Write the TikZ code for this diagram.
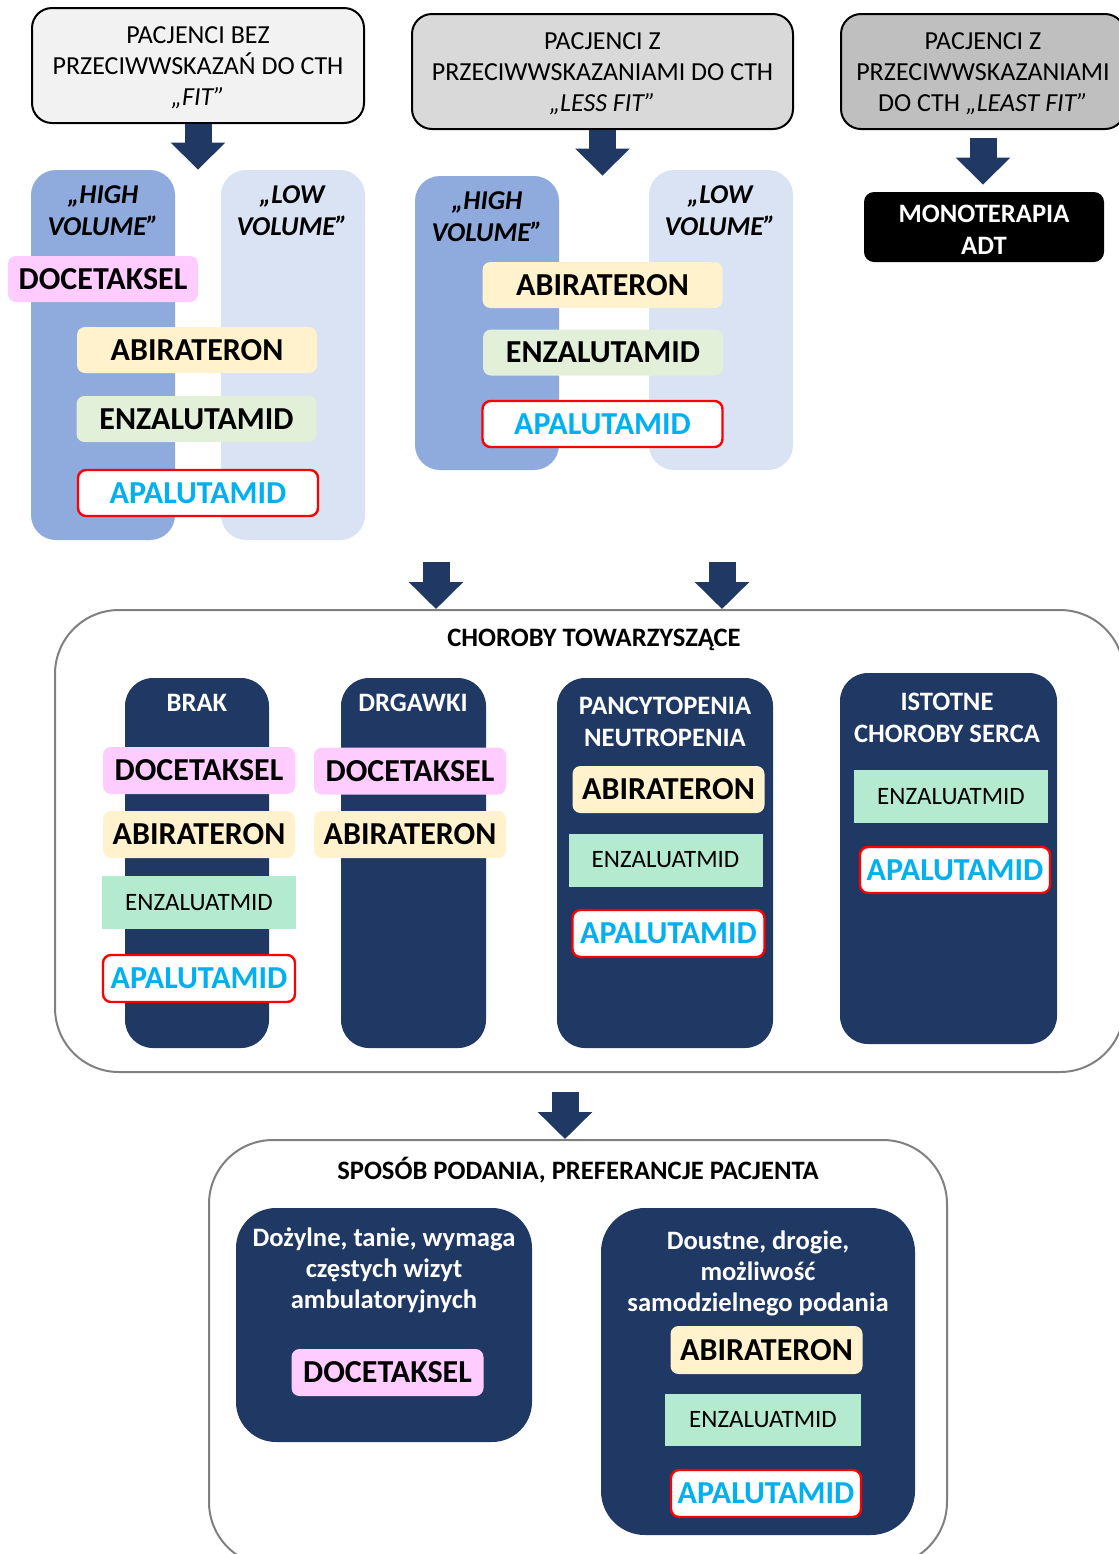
\documentclass[tikz,border=0pt]{standalone}
\usepackage{fontspec}
\setmainfont{Carlito}
\usepackage{xcolor}
\usetikzlibrary{fit}
\usetikzlibrary{arrows.meta}
\usetikzlibrary{positioning}
\definecolor{granat}{HTML}{203864}
\definecolor{highvol}{HTML}{8FAADC}
\definecolor{lowvol}{HTML}{DAE3F3}
\definecolor{doce}{HTML}{FFCCFF}
\definecolor{abir}{HTML}{FFF2CC}
\definecolor{enza}{HTML}{E2F0D9}
\definecolor{mieta}{HTML}{B3EAD0}
\definecolor{apal}{HTML}{00B0F0}
\definecolor{ramka}{HTML}{808080}
\definecolor{fitgray}{HTML}{F2F2F2}
\definecolor{lessgray}{HTML}{D9D9D9}
\definecolor{leastgray}{HTML}{BFBFBF}
\tikzset{
  pacjent/.style={draw=black, line width=1pt, rounded corners=10pt, inner sep=0pt,
    minimum height=57.5pt, text height=40pt, text depth=0pt, align=center,
    font=\fontsize{13}{15.5}\selectfont}, % grupy pacjentow
  kolumna/.style={rounded corners=12.5pt, inner sep=0pt},
  kopf/.style={align=center, inner sep=0pt, font=\fontsize{13.6}{16}\selectfont\bfseries\itshape},
  ciemna/.style={fill=granat, rounded corners=14pt, inner sep=0pt},
  naglowek/.style={align=center, inner sep=0pt, text=white, font=\fontsize{13.3}{16}\selectfont\bfseries},
  kontener/.style={draw=ramka, line width=1pt, rounded corners=32pt, inner sep=0pt},
  tytul/.style={inner sep=0pt, font=\fontsize{13.3}{15}\selectfont\bfseries},
  lek/.style={inner sep=0pt, rounded corners=4pt, minimum width=96pt, minimum height=23.5pt,
    font=\fontsize{16}{18}\selectfont\bfseries},
  szeroki/.style={minimum width=120pt, minimum height=23pt}, % pola w gornej czesci
  doc/.style={lek, fill=doce},
  abi/.style={lek, fill=abir},
  enz/.style={lek, fill=enza},
  apa/.style={lek, fill=white, draw=red, line width=1.2pt, text=apal},
  enzm/.style={inner sep=0pt, fill=mieta, minimum width=97pt, minimum height=26.5pt,
    font=\fontsize{12.5}{14}\selectfont}, % mietowe pole
  blok/.style={granat, line width=13.5pt, -{Triangle[length=13.5pt, width=26.5pt]}} % grube strzalki
}
\begin{document}
\begin{tikzpicture}[x=0.5pt, y=-0.5pt]
\useasboundingbox (0,0) rectangle (1119,1554);

%Pacjenci
\node[pacjent, fill=fitgray, minimum width=166pt] (fit) at (198,65.5)
  {PACJENCI BEZ\\PRZECIWWSKAZAŃ DO CTH\\\textit{„FIT”}};
\node[pacjent, fill=lessgray, minimum width=190.5pt] (less) at (602.5,71.5)
  {PACJENCI Z\\PRZECIWWSKAZANIAMI DO CTH\\\textit{„LESS FIT”}};
\node[pacjent, fill=leastgray, minimum width=142pt] (least) at (983,71.5)
  {PACJENCI Z\\PRZECIWWSKAZANIAMI\\DO CTH \textit{„LEAST FIT”}};

%Kolumny high / low volume
\node[kolumna, fill=highvol, fit={(31,170) (175,540)}] (fitHigh) {};
\node[kolumna, fill=lowvol, fit={(221,170) (365,540)}] (fitLow) {};
\node[kolumna, fill=highvol, fit={(415,176) (559,470)}] (lessHigh) {};
\node[kolumna, fill=lowvol, fit={(649,170) (793,470)}] (lessLow) {};
\node[kopf] (fitHighT) at (103,211) {„HIGH\\VOLUME”};
\node[kopf] (fitLowT) at (292,211) {„LOW\\VOLUME”};
\node[kopf] (lessHighT) at (487,217) {„HIGH\\VOLUME”};
\node[kopf] (lessLowT) at (720,211) {„LOW\\VOLUME”};

%Leki - fit
\node[doc, minimum width=95pt, minimum height=23pt] (fitDoc) at (103,279) {DOCETAKSEL};
\node[abi, szeroki] (fitAbi) at (197,350) {ABIRATERON};
\node[enz, szeroki] (fitEnz) at (196.5,419) {ENZALUTAMID};
\node[apa, szeroki] (fitApa) at (198,493) {APALUTAMID};

%Leki - less fit
\node[abi, szeroki] (lessAbi) at (602.5,285) {ABIRATERON};
\node[enz, szeroki] (lessEnz) at (603,352.5) {ENZALUTAMID};
\node[apa, szeroki] (lessApa) at (602.5,424) {APALUTAMID};

%Least fit
\node[fill=black, rounded corners=5pt, inner sep=0pt, align=center, text=white,
  minimum width=120pt, minimum height=35pt, text height=27.6pt, text depth=0pt,
  font=\fontsize{13.3}{16}\selectfont\bfseries] (mono) at (984,227) {MONOTERAPIA\\ADT};

%Choroby towarzyszace
\node[kontener, fit={(55,610) (1124,1072)}] (chor) {};
\node[tytul] (chorT) at (594,640) {CHOROBY TOWARZYSZĄCE};

\node[ciemna, fit={(125,678) (269,1048)}] (brak) {};
\node[ciemna, fit={(341,678) (486,1048)}] (drg) {};
\node[ciemna, fit={(557,678) (773,1048)}] (panc) {};
\node[ciemna, fit={(840,673) (1057,1044)}] (ist) {};
\node[naglowek] (brakT) at (197,703) {BRAK};
\node[naglowek] (drgT) at (413,703) {DRGAWKI};
\node[naglowek] (pancT) at (665,722) {PANCYTOPENIA\\NEUTROPENIA};
\node[naglowek] (istT) at (947,718) {ISTOTNE\\CHOROBY SERCA};

\node[doc] (brakDoc) at (199,770.5) {DOCETAKSEL};
\node[abi] (brakAbi) at (199,834.5) {ABIRATERON};
\node[enzm] (brakEnz) at (199,902.5) {ENZALUATMID};
\node[apa] (brakApa) at (199,978.5) {APALUTAMID};

\node[doc] (drgDoc) at (410,771) {DOCETAKSEL};
\node[abi] (drgAbi) at (410,834.5) {ABIRATERON};

\node[abi] (pancAbi) at (668.5,789.5) {ABIRATERON};
\node[enzm] (pancEnz) at (665.5,860) {ENZALUATMID};
\node[apa] (pancApa) at (668.5,933.5) {APALUTAMID};

\node[enzm] (istEnz) at (951,796.5) {ENZALUATMID};
\node[apa, minimum width=95pt, minimum height=23pt] (istApa) at (955,870) {APALUTAMID};

%Sposob podania
\node[kontener, fit={(209,1140) (947,1566)}] (spos) {};
\node[tytul] (sposT) at (578,1170) {SPOSÓB PODANIA, PREFERANCJE PACJENTA};

\node[ciemna, rounded corners=20pt, fit={(236,1208) (532,1442)}] (dozyl) {};
\node[ciemna, rounded corners=22pt, fit={(601,1208) (915,1535)}] (doust) {};
\node[naglowek, font=\fontsize{13.3}{15.5}\selectfont\bfseries] (dozylT) at (384,1270)
  {Dożylne, tanie, wymaga\\częstych wizyt\\ambulatoryjnych};
\node[naglowek, font=\fontsize{13.3}{15.5}\selectfont\bfseries] (doustT) at (758,1273)
  {Doustne, drogie,\\możliwość\\samodzielnego podania};

\node[doc] (dozylDoc) at (387.5,1372.5) {DOCETAKSEL};
\node[abi, minimum height=24pt] (doustAbi) at (766.5,1350) {ABIRATERON};
\node[enzm, minimum width=98pt, minimum height=26pt] (doustEnz) at (763,1420) {ENZALUATMID};
\node[apa, minimum width=95pt] (doustApa) at (766,1493.5) {APALUTAMID};

%Strzalki
\coordinate (fitOut) at (436,562);
\coordinate (lessOut) at (722,562);
\coordinate (chorOut) at (565,1092);
\draw[blok] (fit.south) -- (fit.south |- fitHigh.north);
\draw[blok] (less.south) -- (less.south |- lessHigh.north);
\draw[blok, shorten <=4pt, shorten >=3.5pt] (least.south) -- (least.south |- mono.north);
\draw[blok] (fitOut) -- (fitOut |- chor.north);
\draw[blok] (lessOut) -- (lessOut |- chor.north);
\draw[blok] (chorOut) -- (chorOut |- spos.north);

\end{tikzpicture}
\end{document}
